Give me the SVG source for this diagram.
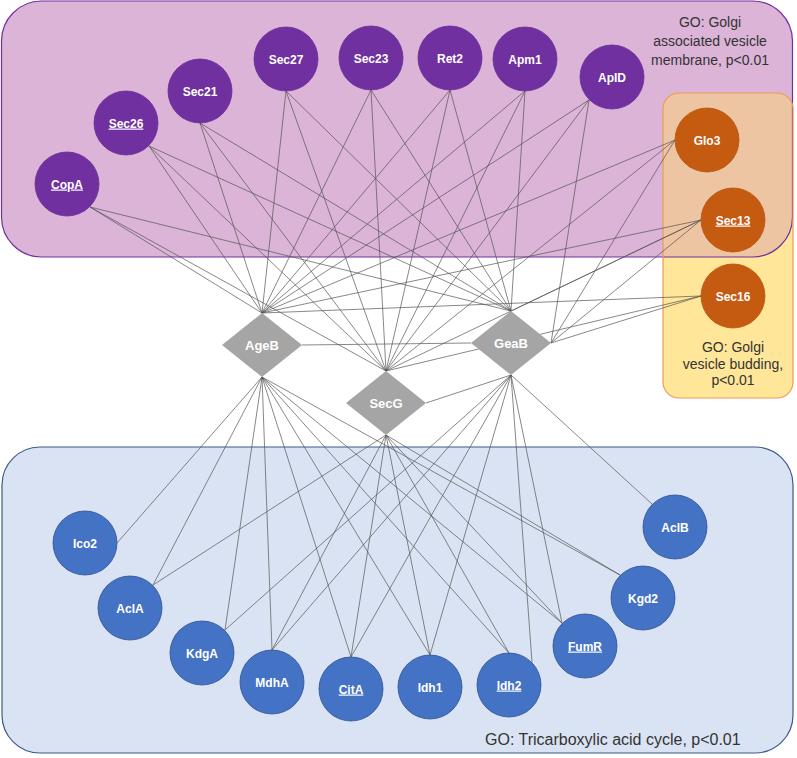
<svg xmlns="http://www.w3.org/2000/svg" width="797" height="758" viewBox="0 0 797 758">
<style>
.lbl{font-family:"Liberation Sans",Arial,sans-serif;font-size:12px;font-weight:bold;fill:#fff;text-anchor:middle}
.dl{font-family:"Liberation Sans",Arial,sans-serif;font-size:13px;font-weight:bold;fill:#fff;text-anchor:middle}
.u{text-decoration:underline}
.go{font-family:"Liberation Sans",Arial,sans-serif;font-size:14px;fill:#333;text-anchor:middle}
.pn{fill:#7030a0;stroke:#6a2d98;stroke-width:0.8}
.on{fill:#c55a11;stroke:#b85410;stroke-width:0.8}
.bn{fill:#4472c4;stroke:#2f528f;stroke-width:0.8}
.dm{fill:#a5a5a5}
#edges line{stroke:#555;stroke-width:0.7}
</style>
<defs>
<clipPath id="pclip"><rect x="1.5" y="1" width="791" height="256" rx="40"/></clipPath>
</defs>
<g id="regions">
<rect x="1.5" y="1" width="791" height="256" rx="40" fill="#dbb4d8"/>
<rect x="663" y="93" width="130" height="305" rx="16" fill="#ffe699"/>
<rect x="663" y="93" width="130" height="305" rx="16" fill="#eec5a2" clip-path="url(#pclip)"/>
<rect x="1.5" y="1" width="791" height="256" rx="40" fill="none" stroke="#7030a0" stroke-width="1.2"/>
<rect x="663" y="93" width="130" height="305" rx="16" fill="none" stroke="#ed9a55" stroke-width="1.2"/>
<rect x="2" y="447" width="791" height="306" rx="38" fill="#dae3f3" stroke="#3c5a8a" stroke-width="1.2"/>
<text class="go" x="710" y="27">GO: Golgi</text>
<text class="go" x="710" y="46">associated vesicle</text>
<text class="go" x="710" y="65">membrane, p&lt;0.01</text>
<text class="go" x="733" y="352">GO: Golgi</text>
<text class="go" x="733" y="368.5">vesicle budding,</text>
<text class="go" x="733" y="385">p&lt;0.01</text>
<text x="485" y="745" style="font-family:'Liberation Sans',Arial,sans-serif;font-size:16px;fill:#333">GO: Tricarboxylic acid cycle, p&lt;0.01</text>
</g>
<g id="edges">
<line x1="90" y1="207" x2="262" y2="313"/>
<line x1="90" y1="207" x2="386" y2="371"/>
<line x1="90" y1="207" x2="511" y2="311"/>
<line x1="149" y1="146" x2="262" y2="313"/>
<line x1="149" y1="146" x2="386" y2="371"/>
<line x1="149" y1="146" x2="511" y2="311"/>
<line x1="200" y1="123" x2="262" y2="313"/>
<line x1="200" y1="123" x2="386" y2="371"/>
<line x1="200" y1="123" x2="511" y2="311"/>
<line x1="286" y1="91" x2="262" y2="313"/>
<line x1="286" y1="91" x2="386" y2="371"/>
<line x1="286" y1="91" x2="511" y2="311"/>
<line x1="371" y1="90" x2="262" y2="313"/>
<line x1="371" y1="90" x2="386" y2="371"/>
<line x1="371" y1="90" x2="511" y2="311"/>
<line x1="450" y1="90" x2="262" y2="313"/>
<line x1="450" y1="90" x2="386" y2="371"/>
<line x1="450" y1="90" x2="511" y2="311"/>
<line x1="525" y1="91" x2="262" y2="313"/>
<line x1="525" y1="91" x2="386" y2="371"/>
<line x1="525" y1="91" x2="511" y2="311"/>
<line x1="589" y1="100" x2="262" y2="313"/>
<line x1="589" y1="100" x2="386" y2="371"/>
<line x1="589" y1="100" x2="551" y2="343"/>
<line x1="675" y1="140" x2="262" y2="313"/>
<line x1="675" y1="140" x2="386" y2="371"/>
<line x1="675" y1="140" x2="551" y2="343"/>
<line x1="701" y1="220" x2="262" y2="313"/>
<line x1="701" y1="220" x2="386" y2="371"/>
<line x1="701" y1="220" x2="511" y2="311"/>
<line x1="701" y1="220" x2="551" y2="343"/>
<line x1="701" y1="296" x2="262" y2="313"/>
<line x1="701" y1="296" x2="386" y2="371"/>
<line x1="701" y1="296" x2="551" y2="343"/>
<line x1="302" y1="345" x2="471" y2="343"/>
<line x1="426" y1="403" x2="511" y2="375"/>
<line x1="117" y1="543" x2="262" y2="377"/>
<line x1="153" y1="585" x2="262" y2="377"/>
<line x1="153" y1="585" x2="386" y2="435"/>
<line x1="225" y1="630" x2="262" y2="377"/>
<line x1="225" y1="630" x2="511" y2="375"/>
<line x1="272" y1="650" x2="262" y2="377"/>
<line x1="272" y1="650" x2="386" y2="435"/>
<line x1="272" y1="650" x2="511" y2="375"/>
<line x1="351" y1="657" x2="262" y2="377"/>
<line x1="351" y1="657" x2="386" y2="435"/>
<line x1="351" y1="657" x2="511" y2="375"/>
<line x1="430" y1="655" x2="262" y2="377"/>
<line x1="430" y1="655" x2="386" y2="435"/>
<line x1="430" y1="655" x2="511" y2="375"/>
<line x1="509" y1="653" x2="262" y2="377"/>
<line x1="509" y1="653" x2="386" y2="435"/>
<line x1="532" y1="662" x2="511" y2="375"/>
<line x1="562" y1="623" x2="262" y2="377"/>
<line x1="562" y1="623" x2="386" y2="435"/>
<line x1="562" y1="623" x2="511" y2="375"/>
<line x1="620" y1="575" x2="262" y2="377"/>
<line x1="620" y1="575" x2="386" y2="435"/>
<line x1="652" y1="504" x2="511" y2="375"/>
</g>
<g id="n-CopA"><circle class="pn" cx="67" cy="184" r="32"/><text class="lbl u" x="67" y="188.5">CopA</text></g>
<g id="n-Sec26"><circle class="pn" cx="126" cy="123" r="32"/><text class="lbl u" x="126" y="127.5">Sec26</text></g>
<g id="n-Sec21"><circle class="pn" cx="200" cy="91" r="32"/><text class="lbl" x="200" y="95.5">Sec21</text></g>
<g id="n-Sec27"><circle class="pn" cx="286" cy="59" r="32"/><text class="lbl" x="286" y="63.5">Sec27</text></g>
<g id="n-Sec23"><circle class="pn" cx="371" cy="58" r="32"/><text class="lbl" x="371" y="62.5">Sec23</text></g>
<g id="n-Ret2"><circle class="pn" cx="450" cy="58" r="32"/><text class="lbl" x="450" y="62.5">Ret2</text></g>
<g id="n-Apm1"><circle class="pn" cx="525" cy="59" r="32"/><text class="lbl" x="525" y="63.5">Apm1</text></g>
<g id="n-ApID"><circle class="pn" cx="612" cy="77" r="32"/><text class="lbl" x="612" y="81.5">ApID</text></g>
<g id="n-Glo3"><circle class="on" cx="707" cy="140" r="32"/><text class="lbl" x="707" y="144.5">Glo3</text></g>
<g id="n-Sec13"><circle class="on" cx="733" cy="220" r="32"/><text class="lbl u" x="733" y="224.5">Sec13</text></g>
<g id="n-Sec16"><circle class="on" cx="733" cy="296" r="32"/><text class="lbl" x="733" y="300.5">Sec16</text></g>
<g id="n-AgeB"><polygon class="dm" points="262,313 302,345 262,377 222,345"/><text class="dl" x="262" y="350">AgeB</text></g>
<g id="n-GeaB"><polygon class="dm" points="511,311 551,343 511,375 471,343"/><text class="dl" x="511" y="348">GeaB</text></g>
<g id="n-SecG"><polygon class="dm" points="386,371 426,403 386,435 346,403"/><text class="dl" x="386" y="408">SecG</text></g>
<g id="n-Ico2"><circle class="bn" cx="85" cy="543" r="32"/><text class="lbl" x="85" y="547.5">Ico2</text></g>
<g id="n-AclA"><circle class="bn" cx="130" cy="608" r="32"/><text class="lbl" x="130" y="612.5">AclA</text></g>
<g id="n-KdgA"><circle class="bn" cx="202" cy="653" r="32"/><text class="lbl" x="202" y="657.5">KdgA</text></g>
<g id="n-MdhA"><circle class="bn" cx="272" cy="682" r="32"/><text class="lbl" x="272" y="686.5">MdhA</text></g>
<g id="n-CitA"><circle class="bn" cx="351" cy="689" r="32"/><text class="lbl u" x="351" y="693.5">CitA</text></g>
<g id="n-Idh1"><circle class="bn" cx="430" cy="687" r="32"/><text class="lbl" x="430" y="691.5">Idh1</text></g>
<g id="n-Idh2"><circle class="bn" cx="509" cy="685" r="32"/><text class="lbl u" x="509" y="689.5">Idh2</text></g>
<g id="n-FumR"><circle class="bn" cx="585" cy="646" r="32"/><text class="lbl u" x="585" y="650.5">FumR</text></g>
<g id="n-Kgd2"><circle class="bn" cx="643" cy="598" r="32"/><text class="lbl" x="643" y="602.5">Kgd2</text></g>
<g id="n-AclB"><circle class="bn" cx="675" cy="527" r="32"/><text class="lbl" x="675" y="531.5">AclB</text></g>
</svg>
